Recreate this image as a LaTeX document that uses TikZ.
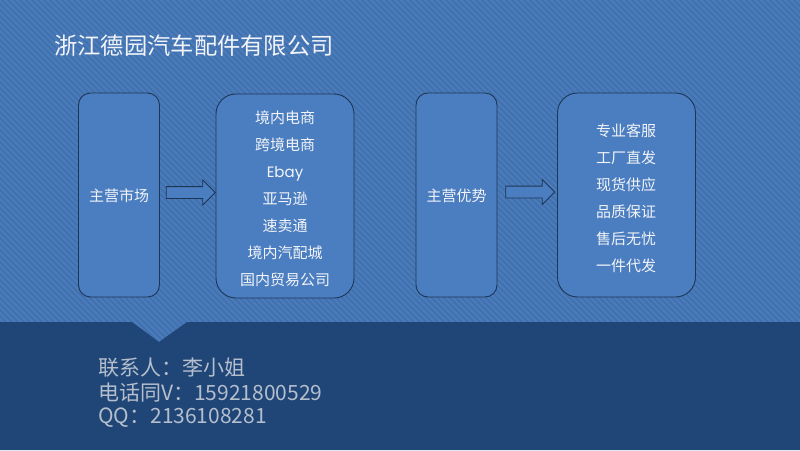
\documentclass[tikz,border=0pt]{standalone}
\usepackage{fontspec}
\usetikzlibrary{shapes.arrows,calc}
\newfontfamily\cjk{Noto Sans CJK SC}
\newfontfamily\geo{Poppins}
\definecolor{bg}{HTML}{4A7BBA}
\definecolor{stripe}{HTML}{4271AE}
\definecolor{band}{HTML}{1F4677}
\definecolor{boxfill}{HTML}{4B7EC0}
\definecolor{edge}{HTML}{1E3656}
\definecolor{contact}{HTML}{B5BECC}
\definecolor{lbl}{HTML}{F2F4F8}
\tikzset{
  narrowbox/.style={draw=edge, fill=boxfill, line width=0.9pt, rounded corners=12pt, minimum width=81pt, minimum height=204pt, inner sep=0pt},
  widebox/.style={draw=edge, fill=boxfill, line width=0.9pt, rounded corners=20pt, minimum width=138pt, minimum height=204pt, inner sep=0pt},
  boxtext/.style={text=lbl, font=\cjk\fontsize{15}{27}\selectfont, align=center, inner sep=0pt},
  blockarr/.style={single arrow, draw=edge, fill=boxfill, line width=0.9pt, minimum height=49pt, inner sep=5.5pt, single arrow head extend=6.5pt, single arrow tip angle=90},
  contacttext/.style={text=contact, font=\cjk\fontsize{21}{25}\selectfont, anchor=west, inner sep=0pt}
}
\begin{document}
\begin{tikzpicture}[x=1pt,y=-1pt]
\useasboundingbox (0,0) rectangle (800,450);
\fill[bg] (0,0) rectangle (800,450);
\begin{scope}
\clip (0,0) -- (800,0) -- (800,322) -- (187,322) -- (159,342) -- (132,322) -- (0,322) -- cycle;
\foreach \a in {-460,-454,...,800} \draw[stripe, line width=2pt] (\a,0) -- ++(460,460);
\end{scope}
\fill[band] (0,322) -- (132,322) -- (159,342) -- (187,322) -- (800,322) -- (800,450) -- (0,450) -- cycle;

\node[text=lbl, font=\cjk\fontsize{23.3}{26}\selectfont, anchor=west, inner sep=0pt] (title) at (54,46) {浙江德园汽车配件有限公司};

\node[narrowbox] (m1) at (119,195) {};
\node[boxtext] (m1t) at (119,196) {主营市场};
\node[widebox] (m2) at (285,196) {};
\node[boxtext] (m2t) at (285,199) {境内电商\\跨境电商\\{\geo Ebay}\\亚马逊\\速卖通\\境内汽配城\\国内贸易公司};

\node[narrowbox] (a1) at (456.5,195) {};
\node[boxtext] (a1t) at (456.5,196) {主营优势};
\node[widebox] (a2) at (626.5,195) {};
\node[boxtext] (a2t) at (626,198.5) {专业客服\\工厂直发\\现货供应\\品质保证\\售后无忧\\一件代发};

\node[blockarr] (arr1) at ($(m1.east)!0.5!(m2.west)+(0,-3)$) {};
\node[blockarr] (arr2) at ($(a1.east)!0.5!(a2.west)+(0,-3)$) {};

\node[contacttext] (c1) at (98,368) {联系人：李小姐};
\node[contacttext] (c2) at (98,393) {电话同V：15921800529};
\node[contacttext] (c3) at (98,418) {QQ：2136108281};
\end{tikzpicture}
\end{document}
